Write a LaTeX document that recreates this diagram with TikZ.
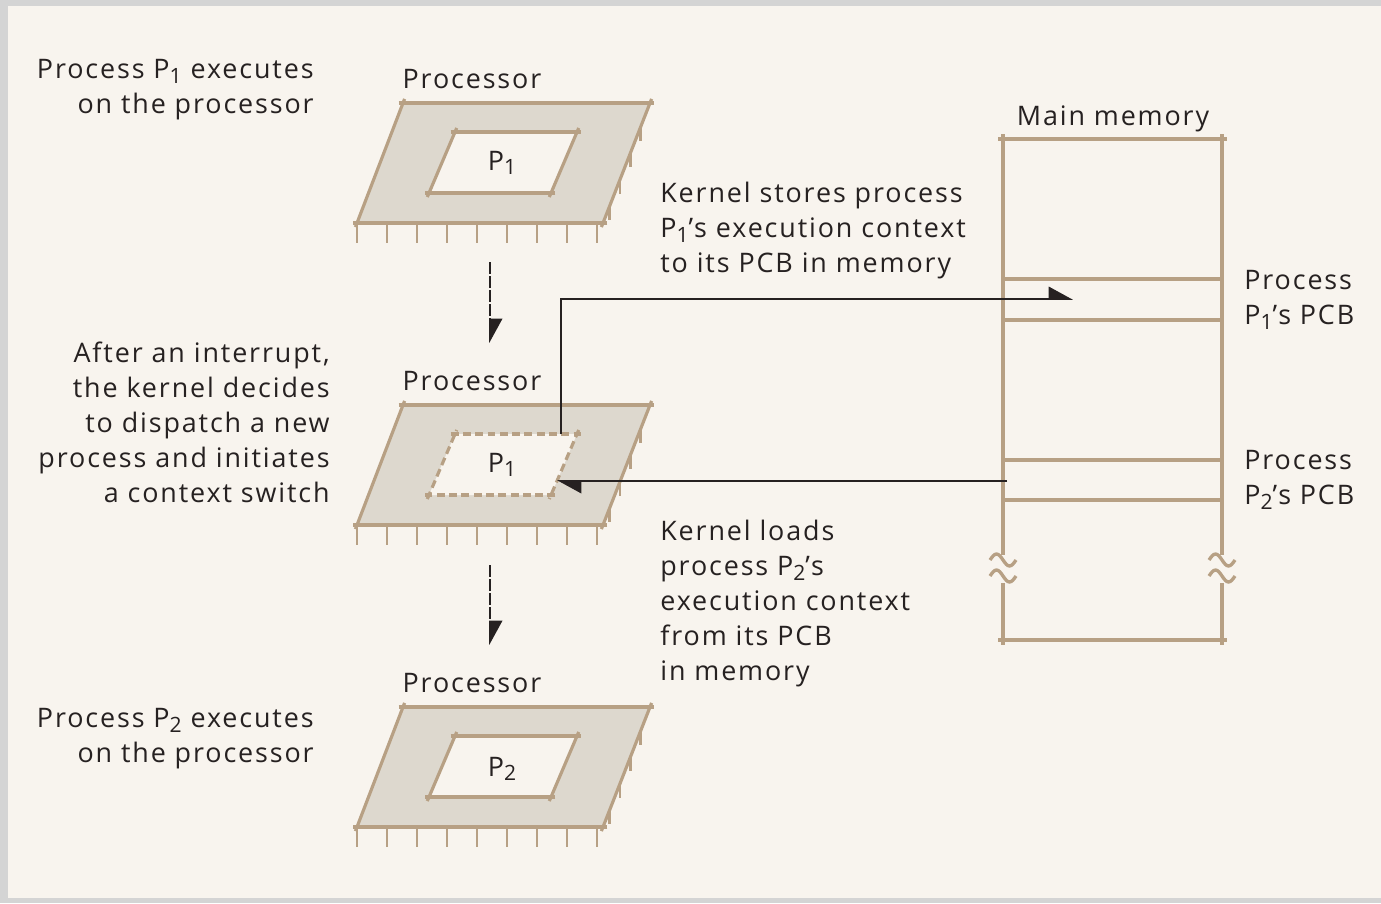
\documentclass[tikz,border=0pt]{standalone}
\usepackage{fontspec}
\setmainfont[LetterSpace=7]{Open Sans}
\usepackage{tikz}
\usetikzlibrary{arrows.meta}
\definecolor{paper}{RGB}{248,244,238}
\definecolor{framegray}{RGB}{212,212,212}
\definecolor{chipfill}{RGB}{221,216,206}
\definecolor{chiptan}{RGB}{183,160,132}
\definecolor{ink}{RGB}{38,33,33}
\newcommand{\Pn}[1]{P\raisebox{-2.6pt}{\fontsize{12}{12}\selectfont #1}}

\begin{document}
\begin{tikzpicture}[x=0.02cm,y=-0.02cm,>={Triangle[harpoon,length=13pt,width=14pt]},
    txt/.style={font=\fontsize{15.3}{19.9}\selectfont,text=ink,inner sep=0pt},
    rimline/.style={draw=chiptan,line width=1.8pt,shorten <=-2.5pt,shorten >=-2.5pt},
    pinline/.style={draw=chiptan,line width=1.5pt},
    memline/.style={draw=chiptan,line width=1.8pt},
    winbroken/.style={dash pattern=on 4.5pt off 2.5pt},
    flow/.style={draw=ink,line width=0.9pt}]
    \useasboundingbox (0,0) rectangle (1381,903);
    \fill[framegray] (0,0) rectangle (1381,903);
    \fill[paper] (8,6) rectangle (1381,898);
    % the three processors
    \foreach \y/\winstyle in {103/solid,405/winbroken,707/solid}{
        \fill[chipfill] (403,\y) -- (650,\y) -- (603,\y+120) -- (357,\y+120) -- cycle;
        \fill[paper] (455,\y+29) -- (577,\y+29) -- (551,\y+90) -- (429,\y+90) -- cycle;
        \draw[rimline] (403,\y) -- (650,\y);
        \draw[rimline] (650,\y) -- (603,\y+120);
        \draw[rimline] (603,\y+120) -- (357,\y+120);
        \draw[rimline] (357,\y+120) -- (403,\y);
        \draw[rimline,\winstyle] (455,\y+29) -- (577,\y+29);
        \draw[rimline,\winstyle] (577,\y+29) -- (551,\y+90);
        \draw[rimline,\winstyle] (551,\y+90) -- (429,\y+90);
        \draw[rimline,\winstyle] (429,\y+90) -- (455,\y+29);
        \foreach \i in {0,...,8}
            \draw[pinline] (357+30*\i,\y+120) -- (357+30*\i,\y+140);
        \foreach \t in {0.2,0.42,0.64,0.86}
            \draw[pinline] (650-47*\t,\y+120*\t) -- (650-47*\t,\y+120*\t+14);
    }
    \node[txt,anchor=base] (lblone) at (472,88) {Processor};
    \node[txt,anchor=base] (lbltwo) at (472,390) {Processor};
    \node[txt,anchor=base] (lblthree) at (472,692) {Processor};
    \node[txt,anchor=base] (winone) at (502,170) {\Pn{1}};
    \node[txt,anchor=base] (wintwo) at (502,472) {\Pn{1}};
    \node[txt,anchor=base] (winthree) at (502,776) {\Pn{2}};
    % main memory
    \draw[memline] (998,139) -- (1227,139);
    \draw[memline] (998,640) -- (1227,640);
    \foreach \x in {1003,1222}{
        \draw[memline] (\x,134) -- (\x,555);
        \draw[memline] (\x,583) -- (\x,645);
        \foreach \y in {560,576}
            \draw[memline,line width=1.9pt] (\x-13,\y) sin (\x-6.5,\y-6) cos (\x,\y) sin (\x+6.5,\y+6) cos (\x+13,\y);
    }
    \foreach \y in {279,320,460,500}
        \draw[memline] (1003,\y) -- (1222,\y);
    \node[txt,anchor=base] (memlbl) at (1113,125) {Main memory};
    \node[txt,align=left,anchor=north west] (pcbonetxt) at (1244,270) {Process\\\Pn{1}’s PCB};
    \node[txt,align=left,anchor=north west] (pcbtwotxt) at (1244,450) {Process\\\Pn{2}’s PCB};
    % explanations
    \node[txt,align=right,anchor=north east] (runone) at (314,59) {Process \Pn{1} executes\\on the processor};
    \node[txt,align=right,anchor=north east] (switchtxt) at (330,342) {After an interrupt,\\the kernel decides\\to dispatch a new\\process and initiates\\a context switch};
    \node[txt,align=right,anchor=north east] (runtwo) at (314,708) {Process \Pn{2} executes\\on the processor};
    \node[txt,align=left,anchor=north west] (storetxt) at (660,182) {Kernel stores process\\\Pn{1}’s execution context\\to its PCB in memory};
    \node[txt,align=left,anchor=north west] (loadtxt) at (660,520) {Kernel loads\\process \Pn{2}’s\\execution context\\from its PCB\\in memory};
    % connectors
    \coordinate (dropa) at (490,262);
    \coordinate (dropb) at (490,343);
    \coordinate (dropc) at (490,565);
    \coordinate (dropd) at (490,645);
    \coordinate (savefrom) at (561,434);
    \coordinate (pcbone) at (1073,299);
    \coordinate (pcbtwo) at (1007,481);
    \coordinate (winin) at (557,481);
    \draw[flow,->,dash pattern=on 7pt off 1pt] (dropa) -- (dropb);
    \draw[flow,->,dash pattern=on 7pt off 1pt] (dropc) -- (dropd);
    \draw[flow,->] (savefrom) |- (pcbone);
    \draw[flow,->] (pcbtwo) -- (winin);
\end{tikzpicture}
\end{document}
